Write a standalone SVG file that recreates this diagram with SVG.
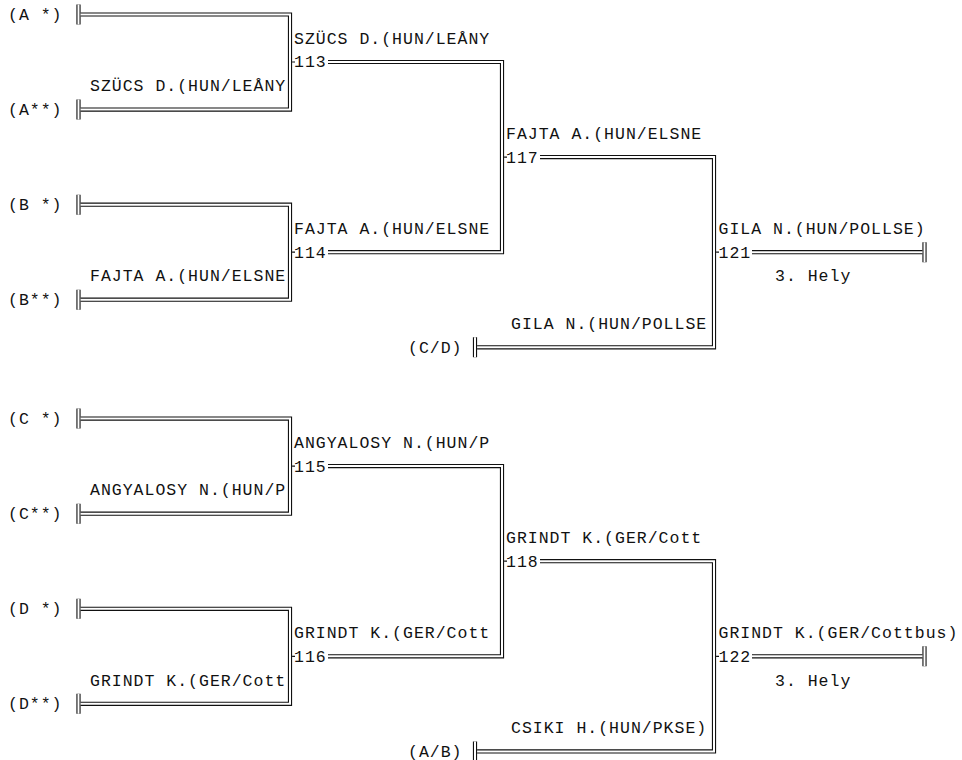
<svg xmlns="http://www.w3.org/2000/svg" width="962" height="760" viewBox="0 0 962 760">
<style>
text{font-family:"Liberation Mono","DejaVu Sans Mono",monospace;font-size:16.5px;letter-spacing:1px;fill:#111}
.o{fill:none;stroke:#111;stroke-width:4.2;stroke-linejoin:miter;stroke-linecap:butt}
.i{fill:none;stroke:#fff;stroke-width:2;stroke-linejoin:miter;stroke-linecap:butt}
.t{fill:none;stroke:#111;stroke-width:1.2}
</style>
<rect width="962" height="760" fill="#fff"/>
<g id="connectors">
<g class="o">
<path id="p1" d="M80.6,14.5H290V109.6H80.6"/>
<path id="p2" d="M80.6,204.7H290V299.7H80.6"/>
<path id="p3" d="M328,62H502V252.2H328"/>
<path id="p4" d="M540,157.1H714V347.3H477.1"/>
<path id="p5" d="M752,252.2H922.4"/>
<path id="s1" d="M78.5,4.5V24.5M78.5,99.6V119.6M78.5,194.7V214.7M78.5,289.7V309.7M475,337.3V357.3M924.5,242.2V262.2"/>
<path id="q1" d="M80.6,418.6H290V513.7H80.6"/>
<path id="q2" d="M80.6,608.8H290V703.8H80.6"/>
<path id="q3" d="M328,466.1H502V656.3H328"/>
<path id="q4" d="M540,561.2H714V751.4H477.1"/>
<path id="q5" d="M752,656.3H922.4"/>
<path id="s2" d="M78.5,408.6V428.6M78.5,503.7V523.7M78.5,598.8V618.8M78.5,693.8V713.8M475,741.4V761M924.5,646.3V666.3"/>
</g>
<g class="i">
<use href="#p1"/><use href="#p2"/><use href="#p3"/><use href="#p4"/><use href="#p5"/><use href="#s1"/>
<use href="#q1"/><use href="#q2"/><use href="#q3"/><use href="#q4"/><use href="#q5"/><use href="#s2"/>
</g>
<path class="t" d="M292.1,62H295M292.1,252.2H295M504.1,157.1H507M716.1,252.2H719M292.1,466.1H295M292.1,656.3H295M504.1,561.2H507M716.1,656.3H719"/>
</g>
<g id="entry-A1"><text x="8" y="19.9">(A *)</text></g>
<g id="entry-A2"><text x="8" y="115">(A**)</text></g>
<g id="entry-B1"><text x="8" y="210.1">(B *)</text></g>
<g id="entry-B2"><text x="8" y="305.1">(B**)</text></g>
<g id="entry-CD"><text x="408" y="352.7">(C/D)</text></g>
<g id="m113"><text x="294" y="43.7">SZÜCS D.(HUN/LEÅNY</text><text x="294" y="67.4">113</text><text x="90" y="91.2">SZÜCS D.(HUN/LEÅNY</text></g>
<g id="m114"><text x="294" y="233.8">FAJTA A.(HUN/ELSNE</text><text x="294" y="257.6">114</text><text x="90" y="281.4">FAJTA A.(HUN/ELSNE</text></g>
<g id="m117"><text x="506" y="138.8">FAJTA A.(HUN/ELSNE</text><text x="506" y="162.5">117</text><text x="511" y="328.9">GILA N.(HUN/POLLSE</text></g>
<g id="m121"><text x="718.5" y="233.8">GILA N.(HUN/POLLSE)</text><text x="718.5" y="257.6">121</text><text x="775" y="281.4">3. Hely</text></g>
<g id="entry-C1"><text x="8" y="424">(C *)</text></g>
<g id="entry-C2"><text x="8" y="519.1">(C**)</text></g>
<g id="entry-D1"><text x="8" y="614.2">(D *)</text></g>
<g id="entry-D2"><text x="8" y="709.2">(D**)</text></g>
<g id="entry-AB"><text x="408" y="756.8">(A/B)</text></g>
<g id="m115"><text x="294" y="447.8">ANGYALOSY N.(HUN/P</text><text x="294" y="471.5">115</text><text x="90" y="495.3">ANGYALOSY N.(HUN/P</text></g>
<g id="m116"><text x="294" y="637.9">GRINDT K.(GER/Cott</text><text x="294" y="661.7">116</text><text x="90" y="685.5">GRINDT K.(GER/Cott</text></g>
<g id="m118"><text x="506" y="542.8">GRINDT K.(GER/Cott</text><text x="506" y="566.6">118</text><text x="511" y="733">CSIKI H.(HUN/PKSE)</text></g>
<g id="m122"><text x="718.5" y="637.9">GRINDT K.(GER/Cottbus)</text><text x="718.5" y="661.7">122</text><text x="775" y="685.5">3. Hely</text></g>
</svg>
